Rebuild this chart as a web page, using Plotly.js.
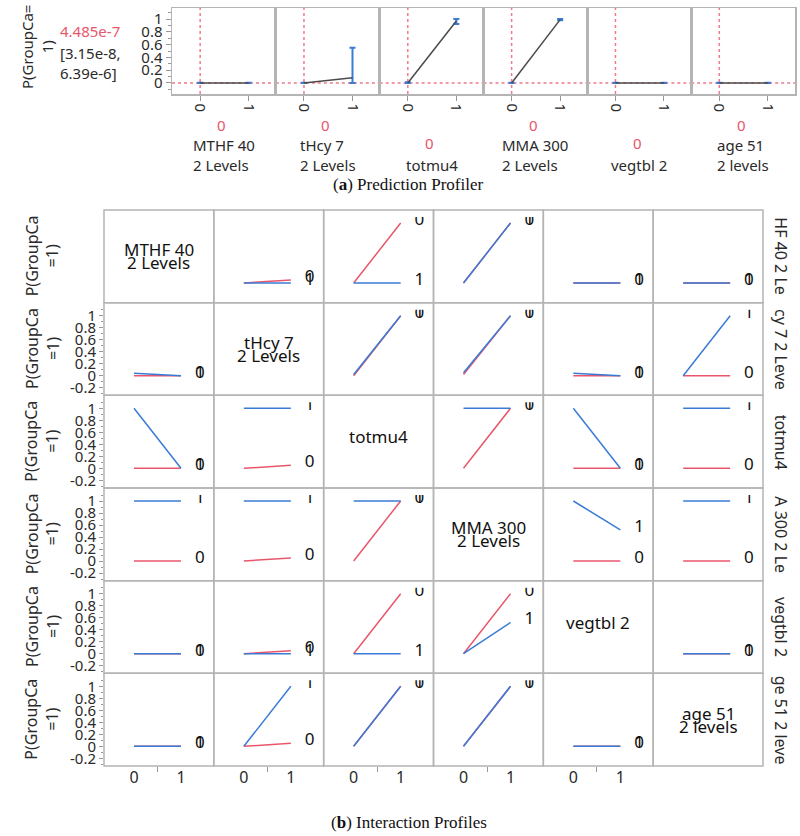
<!DOCTYPE html>
<html><head><meta charset="utf-8">
<script src="https://cdn.plot.ly/plotly-3.0.1.min.js"></script>
<style>html,body{margin:0;padding:0;background:#fff}#chart{width:800px;height:836px}</style>
</head><body><div id="chart"></div>
<script>
// ---------- data ----------
const factorLines = [["MTHF 40","2 Levels"],["tHcy 7","2 Levels"],["totmu4"],["MMA 300","2 Levels"],["vegtbl 2"],["age 51","2 levels"]];
const sideLabels = ["HF 40 2 Le","cy 7 2 Leve","totmu4","A 300 2 Le","vegtbl 2","ge 51 2 leve"];
const levels = [0, 1];
const levelText = ["0", "1"];
const currentSetting = [0, 0, 0, 0, 0, 0];
const predValue = 4.485e-7;
const predText = "4.485e-7";
const ciText = ["[3.15e-8,", "6.39e-6]"];
const yTickVals = [-0.2, 0, 0.2, 0.4, 0.6, 0.8, 1];
const yTickText = ["-0.2", "0", "0.2", "0.4", "0.6", "0.8", "1"];
const yMinorVals = [-0.3, -0.1, 0.1, 0.3, 0.5, 0.7, 0.9, 1.1];

// prediction profiler (response at level 0 and level 1, with confidence limits)
const profAt0 = [0, 0, 0, 0, 0, 0];
const profAt1 = [0, 0.08, 0.97, 0.99, 0, 0];
const ciLow0  = [0, 0, 0, 0, 0, 0];
const ciHigh0 = [0.005, 0.005, 0.01, 0.005, 0.005, 0.005];
const ciLow1  = [0, 0, 0.92, 0.98, 0, 0];
const ciHigh1 = [0.005, 0.55, 1.0, 1.0, 0.005, 0.005];

// interaction profiles: [response at x=0, response at x=1] for row-factor level 0 (red) and 1 (blue)
const red_MTHF40  = [null, [0, 0.05], [0, 1], [0, 1], [0, 0], [0, 0]];
const blue_MTHF40 = [null, [0, 0], [0, 0], [0, 1], [0, 0], [0, 0]];
const red_tHcy7   = [[0, 0], null, [0, 1], [0.02, 1], [0, 0], [0, 0]];
const blue_tHcy7  = [[0.04, 0], null, [0.02, 1], [0.05, 1], [0.04, 0], [0, 1]];
const red_totmu4  = [[0, 0], [0, 0.05], null, [0, 1], [0, 0], [0, 0]];
const blue_totmu4 = [[1, 0], [1, 1], null, [1, 1], [1, 0], [1, 1]];
const red_MMA300  = [[0, 0], [0, 0.05], [0, 1], null, [0, 0], [0, 0]];
const blue_MMA300 = [[1, 1], [1, 1], [1, 1], null, [1, 0.52], [1, 1]];
const red_vegtbl2  = [[0, 0], [0, 0.05], [0, 1], [0, 1], null, [0, 0]];
const blue_vegtbl2 = [[0, 0], [0, 0], [0, 0], [0, 0.52], null, [0, 0]];
const red_age51   = [[0, 0], [0, 0.05], [0, 1], [0, 1], [0, 0], null];
const blue_age51  = [[0, 0], [0, 1], [0, 1], [0, 1], [0, 0], null];
const redRows  = [red_MTHF40, red_tHcy7, red_totmu4, red_MMA300, red_vegtbl2, red_age51];
const blueRows = [blue_MTHF40, blue_tHcy7, blue_totmu4, blue_MMA300, blue_vegtbl2, blue_age51];

// ---------- styling / layout ----------
const W = 800, H = 836;
const fx = p => p / W, fy = p => 1 - p / H;
const RED = '#e8566c', BLUE = '#3a7bd5', GRID = '#b4b4b4', TXT = '#2a2a2a';
const SANS = 'Noto Sans, Open Sans, sans-serif';
const SERIF = 'Liberation Serif, DejaVu Serif, serif';
const labelLift = 0.04;   // end-of-line labels sit slightly above the line end
const labelX = 1.4;

const layout = {
  width: W, height: H, margin: {l: 0, r: 0, t: 0, b: 0},
  paper_bgcolor: '#fff', plot_bgcolor: 'rgba(0,0,0,0)', showlegend: false,
  font: {family: SANS, size: 15, color: TXT},
  annotations: [], shapes: []
};
const data = [];
const ann = (o) => layout.annotations.push(Object.assign({showarrow: false, xref: 'paper', yref: 'paper',
  xanchor: 'center', yanchor: 'middle', font: {family: SANS, size: 15, color: TXT}}, o));

// ---- (a) prediction profiler ----
const pL = 172, pR = 795, pT = 8, pB = 94, pw = (pR - pL) / 6;
for (let k = 0; k < 6; k++) {
  const n = k + 1, xs = n === 1 ? '' : String(n);
  layout['xaxis' + xs] = {
    domain: [fx(pL + k * pw), fx(pL + (k + 1) * pw)], range: [-0.58, 1.56],
    tickvals: levels, ticktext: levelText, tickangle: 90, ticks: 'outside', ticklen: 5, tickcolor: '#999',
    showline: true, mirror: true, linecolor: GRID, linewidth: 1.5, zeroline: false, showgrid: false,
    anchor: 'y' + xs, tickfont: {size: 15, color: TXT}
  };
  layout['yaxis' + xs] = {
    domain: [fy(pB), fy(pT)], range: [-0.172, 1.172], anchor: 'x' + xs,
    tickvals: yTickVals.slice(1), ticktext: yTickText.slice(1),
    showticklabels: k === 0, ticks: k === 0 ? 'outside' : '', ticklen: 5, tickcolor: '#999',
    minor: k === 0 ? {tickmode: 'array', tickvals: yMinorVals.slice(1), ticks: 'outside', ticklen: 3, tickcolor: '#999'} : undefined,
    showline: true, mirror: true, linecolor: GRID, linewidth: 1.5, zeroline: false, showgrid: false,
    tickfont: {size: 15, color: TXT}
  };
  data.push({
    x: levels, y: [profAt0[k], profAt1[k]], mode: 'lines', xaxis: 'x' + xs, yaxis: 'y' + xs,
    line: {color: '#4a4a4a', width: 1.5}, hoverinfo: 'skip',
    error_y: {type: 'data', symmetric: false,
      array: [ciHigh0[k] - profAt0[k], ciHigh1[k] - profAt1[k]],
      arrayminus: [profAt0[k] - ciLow0[k], profAt1[k] - ciLow1[k]],
      color: BLUE, thickness: 2, width: 3}
  });
  layout.shapes.push({type: 'line', xref: 'x' + xs, yref: 'y' + xs + ' domain', x0: currentSetting[k], x1: currentSetting[k], y0: 0, y1: 1,
    line: {color: '#f07a8a', width: 1.5, dash: 'dot'}, layer: 'below'});
  layout.shapes.push({type: 'line', xref: 'x' + xs + ' domain', yref: 'y' + xs, x0: 0, x1: 1, y0: predValue, y1: predValue,
    line: {color: '#f07a8a', width: 1.5, dash: 'dot'}, layer: 'below'});
  const cx = pL + (k + 0.5) * pw;
  const two = factorLines[k].length > 1;
  ann({x: fx(cx - 2), y: fy(two ? 125 : 143), text: String(currentSetting[k]), font: {family: SANS, size: 15, color: RED}});
  ann({x: fx(cx), y: fy(two ? 155 : 165), text: factorLines[k].join('<br>'), align: 'left'});
}
ann({x: fx(37), y: fy(47), text: 'P(GroupCa=<br>1)', textangle: -90});
ann({x: fx(58), xanchor: 'left', y: fy(31), text: predText, font: {family: SANS, size: 15, color: RED}});
ann({x: fx(58), xanchor: 'left', y: fy(63), text: ciText.join('<br>'), align: 'left'});
ann({x: fx(408), y: fy(185), text: '(<b>a</b>) Prediction Profiler', font: {family: SERIF, size: 17, color: '#111'}});

// ---- (b) interaction profiles ----
const gL = 104, gT = 210, cw = (763 - gL) / 6, rh = (766 - gT) / 6;
const inset = 7, zeroOff = 73, pxPerUnit = 60, pxPerX = 47, x0Off = 30;
for (let r = 0; r < 6; r++) {
  const top = gT + r * rh;
  for (let c = 0; c < 6; c++) {
    const left = gL + c * cw;
    const n = 7 + r * 6 + c, s = String(n);
    layout['xaxis' + s] = {
      domain: [fx(left), fx(left + cw)], range: [-x0Off / pxPerX, (cw - x0Off) / pxPerX], anchor: 'y' + s,
      tickvals: levels, ticktext: levelText, showticklabels: r === 5, ticks: '',
      minor: r === 5 ? {tickmode: 'array', tickvals: [0.5], ticks: 'outside', ticklen: 5, tickcolor: '#999'} : undefined,
      showline: false, zeroline: false, showgrid: false, tickfont: {size: 16, color: TXT}
    };
    layout['yaxis' + s] = {
      domain: [fy(top + rh), fy(top + inset)], range: [-(rh - zeroOff) / pxPerUnit, (zeroOff - inset) / pxPerUnit], anchor: 'x' + s,
      tickvals: yTickVals, ticktext: yTickText, showticklabels: c === 0, ticks: c === 0 ? 'outside' : '', ticklen: 4, tickcolor: '#999',
      minor: c === 0 ? {tickmode: 'array', tickvals: yMinorVals, ticks: 'outside', ticklen: 2, tickcolor: '#999'} : undefined,
      showline: false, zeroline: false, showgrid: false, tickfont: {size: 15, color: TXT}
    };
    layout.shapes.push({type: 'rect', xref: 'paper', yref: 'paper', x0: fx(left), x1: fx(left + cw), y0: fy(top + rh), y1: fy(top),
      line: {color: GRID, width: 1.5}, fillcolor: 'rgba(0,0,0,0)', layer: 'above'});
    if (r === c) {
      const lines = factorLines[r];
      if (lines.length > 1) {
        ann({x: fx(left + cw / 2), y: fy(top + rh / 2 - 6.5), text: lines[0], font: {family: SANS, size: 17, color: '#111'}});
        ann({x: fx(left + cw / 2), y: fy(top + rh / 2 + 6.5), text: lines[1], font: {family: SANS, size: 17, color: '#111'}});
      } else {
        ann({x: fx(left + cw / 2), y: fy(top + rh / 2 - 5), text: lines[0], font: {family: SANS, size: 17, color: '#111'}});
      }
      continue;
    }
    const rv = redRows[r][c], bv = blueRows[r][c];
    data.push({x: levels, y: rv, mode: 'lines', xaxis: 'x' + s, yaxis: 'y' + s, line: {color: RED, width: 1.5}, hoverinfo: 'skip'});
    data.push({x: levels, y: bv, mode: 'lines', xaxis: 'x' + s, yaxis: 'y' + s, line: {color: BLUE, width: 1.5}, hoverinfo: 'skip'});
    data.push({x: [labelX, labelX], y: [rv[1] + labelLift, bv[1] + labelLift], text: levelText, mode: 'text', textposition: 'middle center',
      xaxis: 'x' + s, yaxis: 'y' + s, textfont: {family: SANS, size: 17, color: '#111'}, cliponaxis: true, hoverinfo: 'skip'});
  }
  ann({x: fx(42), y: fy(top + rh / 2), text: 'P(GroupCa<br>=1)', textangle: -90, font: {family: SANS, size: 16, color: TXT}});
  ann({x: fx(781), y: fy(top + rh / 2), text: sideLabels[r], textangle: 90, font: {family: SANS, size: 16, color: TXT}});
}
ann({x: fx(409), y: fy(822), text: '(<b>b</b>) Interaction Profiles', font: {family: SERIF, size: 17, color: '#111'}});

Plotly.newPlot('chart', data, layout, {staticPlot: true, displayModeBar: false});
</script></body></html>
